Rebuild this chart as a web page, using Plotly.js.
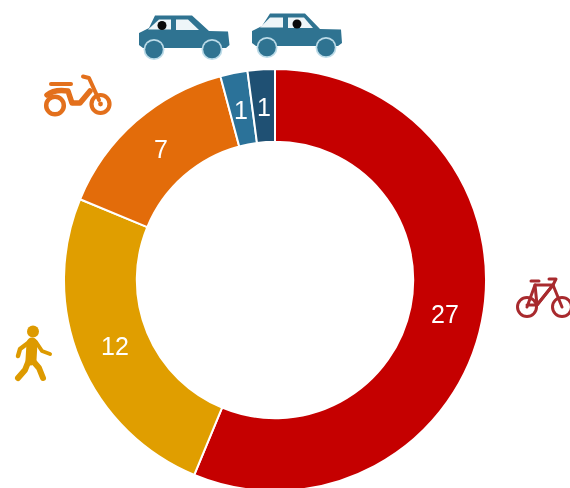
<!DOCTYPE html>
<html>
<head>
<meta charset="utf-8">
<script src="https://cdn.plot.ly/plotly-3.0.1.min.js"></script>
<style>html,body{margin:0;padding:0;background:#fff;overflow:hidden;width:570px;height:488px}</style>
</head>
<body>
<div id="chart" style="width:570px;height:488px;overflow:hidden;filter:blur(0.5px)"></div>
<script>
var categories = ["Bicycle", "Walking", "Scooter", "Car passenger", "Car driver"];
var values = [27, 12, 7, 1, 1];
var colors = ["#c50000", "#e09e00", "#e36c0a", "#2b7299", "#1f5073"];

var W = 570, H = 562;
var cx = 275, cy = 280, R = 211, hole = 0.655;

function car(cyW, wheels, winA, winB, head, outline) {
  var c = "#2f7391", ring = "#bcdbe8", win = "#eef5f8";
  return '<path d="' + outline + '" fill="' + c + '"/>' +
    '<path d="' + winA + '" fill="' + win + '"/><path d="' + winB + '" fill="' + win + '"/>' +
    '<circle cx="' + head[0] + '" cy="' + head[1] + '" r="4.5" fill="#0a0a0a"/>' +
    wheels.map(function (w) {
      return '<circle cx="' + w + '" cy="' + cyW + '" r="10.5" fill="' + ring + '"/>' +
             '<circle cx="' + w + '" cy="' + cyW + '" r="8.8" fill="' + c + '"/>';
    }).join("");
}

var icons = [
  { box: [136, 12, 96, 50], svg: car(49.5, [154, 212],
      "M148 29.5L159 19.5H171V29.5Z", "M176 19.5H188L199 30H176Z", [162, 25.5],
      "M139 33L149 28L155 15.5H192L209 31L228 31.5L229.5 45L226 48H143L139 45Z") },
  { box: [249, 10, 96, 50], svg: car(47.5, [267, 326],
      "M260 27.5L270 17.5H283V27.5Z", "M288 17.5H304L313 28H288Z", [297, 24],
      "M252 31L262 26L270 13.5H305L320 29L341 29.5L342 43L338 46H256L252 43Z") },
  { box: [42, 72, 74, 50], svg:
      '<g fill="none" stroke="#e3701c" stroke-linecap="round" stroke-linejoin="round">' +
      '<circle cx="55" cy="105.5" r="8.8" stroke-width="4.5"/>' +
      '<circle cx="55" cy="105.5" r="3" fill="#fff" stroke="none"/>' +
      '<circle cx="100.5" cy="104" r="9" stroke-width="4.2"/>' +
      '<circle cx="100.5" cy="104" r="2.4" fill="#e3701c" stroke="none"/>' +
      '<path d="M83 76.5L89 78L99 100" stroke-width="4"/>' +
      '<path d="M51 84H71" stroke-width="4"/>' +
      '<path d="M47 95Q54 89 68 91L72 103H80L90 91" stroke-width="5.5"/>' +
      '</g>' },
  { box: [10, 322, 44, 64], svg:
      '<g fill="none" stroke="#dd9a00" stroke-linecap="round" stroke-linejoin="round">' +
      '<circle cx="33" cy="331.5" r="6" fill="#dd9a00" stroke="none"/>' +
      '<path d="M32 343L31 360" stroke-width="11"/>' +
      '<path d="M28 343L20 349L18 356" stroke-width="4.5"/>' +
      '<path d="M36 342L42 351L50 354" stroke-width="4"/>' +
      '<path d="M29 360L25 370L18 378" stroke-width="6"/>' +
      '<path d="M33 361L39 368L43 378" stroke-width="6"/>' +
      '</g>' },
  { box: [512, 274, 62, 48], svg:
      '<g fill="none" stroke="#a82a2e" stroke-width="3" stroke-linecap="round" stroke-linejoin="round">' +
      '<circle cx="527" cy="307" r="9.5"/>' +
      '<circle cx="562" cy="307" r="9.5"/>' +
      '<path d="M527 307L535 285H553L537 305H527"/>' +
      '<path d="M535 285L537 305L553 285L562 307"/>' +
      '<path d="M531 281H539"/>' +
      '<path d="M549 279H556L553 285"/>' +
      '</g>' }
];

var images = icons.map(function (ic) {
  var b = ic.box;
  var s = '<svg xmlns="http://www.w3.org/2000/svg" width="' + b[2] + '" height="' + b[3] +
    '" viewBox="' + b.join(" ") + '">' + ic.svg + '</svg>';
  return {
    source: "data:image/svg+xml;charset=utf-8," + encodeURIComponent(s),
    xref: "paper", yref: "paper",
    x: b[0] / W, y: 1 - b[1] / H,
    sizex: b[2] / W, sizey: b[3] / H,
    xanchor: "left", yanchor: "top", sizing: "stretch", layer: "above"
  };
});

// Value labels sit mid-ring at each slice's middle angle, derived from the values.
var total = values.reduce(function (a, b) { return a + b; }, 0);
var cum = 0, Rm = R * (1 + hole) / 2 - 1;
var annotations = values.map(function (v) {
  var a = (cum + v / 2) / total * 2 * Math.PI;
  cum += v;
  return {
    xref: "paper", yref: "paper",
    x: (cx + Rm * Math.sin(a)) / W,
    y: 1 - (cy - Rm * Math.cos(a)) / H,
    xanchor: "center", yanchor: "middle",
    text: String(v), showarrow: false,
    font: { family: "Liberation Sans, Arial, sans-serif", size: 25, color: "#ffffff" }
  };
});

Plotly.newPlot("chart", [{
  type: "pie",
  labels: categories,
  values: values,
  hole: hole,
  sort: false,
  direction: "clockwise",
  rotation: 0,
  textinfo: "none",
  marker: { colors: colors, line: { color: "#ffffff", width: 2 } },
  domain: {
    x: [(cx - R) / W, (cx + R) / W],
    y: [1 - (cy + R) / H, 1 - (cy - R) / H]
  },
  showlegend: false,
  hoverinfo: "label+value"
}], {
  width: W, height: H,
  margin: { l: 0, r: 0, t: 0, b: 0 },
  paper_bgcolor: "#ffffff",
  showlegend: false,
  images: images,
  annotations: annotations
}, { displayModeBar: false, staticPlot: true });
</script>
</body>
</html>
